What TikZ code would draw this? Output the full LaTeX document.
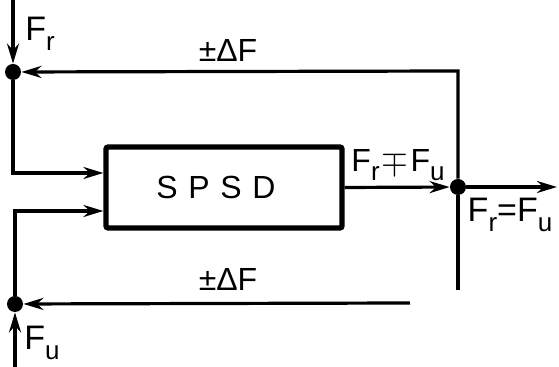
\documentclass[tikz,border=0pt]{standalone}
\usepackage{fontspec}
\setmainfont{Liberation Sans}
\usetikzlibrary{arrows.meta}
\newcommand{\lowidx}[1]{\raisebox{-0.55ex}{\fontsize{13}{15}\selectfont #1}}

\begin{document}
\begin{tikzpicture}[
    x=0.5pt, y=-0.5pt,
    block/.style={rectangle, draw, line width=2.6pt, rounded corners=1pt, minimum width=118pt, minimum height=40.5pt, font=\fontsize{16}{18}\selectfont},
    junction/.style={circle, fill, inner sep=0pt, minimum size=8pt},
    label/.style={font=\fontsize{17}{19}\selectfont, inner sep=1pt},
    arrow/.style={->, >={Stealth[length=10pt,width=6pt]}, line width=1.6pt}
]
\useasboundingbox (0,0) rectangle (559,367);

% Summing points and the controller block (absolute coordinates)
\node[junction] (jr) at (13,72) {};
\node[junction] (ju) at (15,304) {};
\node[junction] (jo) at (458,187) {};
\node[block] (spsd) at (224,187.5) {\hspace*{-8pt}S\,\,P\,\,S\,\,D};

% Free ends
\coordinate (rin) at (13,0);
\coordinate (uin) at (15,367);
\coordinate (out) at (557,187);
\coordinate (corner) at (458,71);
\coordinate (rend) at (458,290);
\coordinate (bstart) at (410,303);

% Labels
\node[label] (lr) at (40,34) {F\lowidx{r}};
\node[label] (lu) at (42,343) {F\lowidx{u}};
\node[label, font=\fontsize{16}{18}\selectfont] (dtop) at (228,51) {±ΔF};
\node[label, font=\fontsize{16}{18}\selectfont] (dbot) at (228,280) {±ΔF};
\node[label, font=\fontsize{16}{18}\selectfont] (lneq) at (398,165) {F\lowidx{r}\kern1pt$\mp$\kern1ptF\lowidx{u}};
\node[label] (leq) at (510,215) {F\lowidx{r}=F\lowidx{u}};

% Inputs
\draw[arrow] (rin) -- (jr);
\draw[arrow] (uin) -- (ju);
\draw[arrow] (jr) |- ([yshift=7.25pt]spsd.west);
\draw[arrow] (ju) |- ([yshift=-11.75pt]spsd.west);

% Output
\draw[arrow] (spsd.east) -- (jo);
\draw[arrow] (jo) -- (out);

% Feedback loops
\draw[arrow] (jo) -- (corner) -- (jr);
\draw[line width=1.6pt] (jo) -- (rend);
\draw[arrow] (bstart) -- (ju);

\end{tikzpicture}
\end{document}
